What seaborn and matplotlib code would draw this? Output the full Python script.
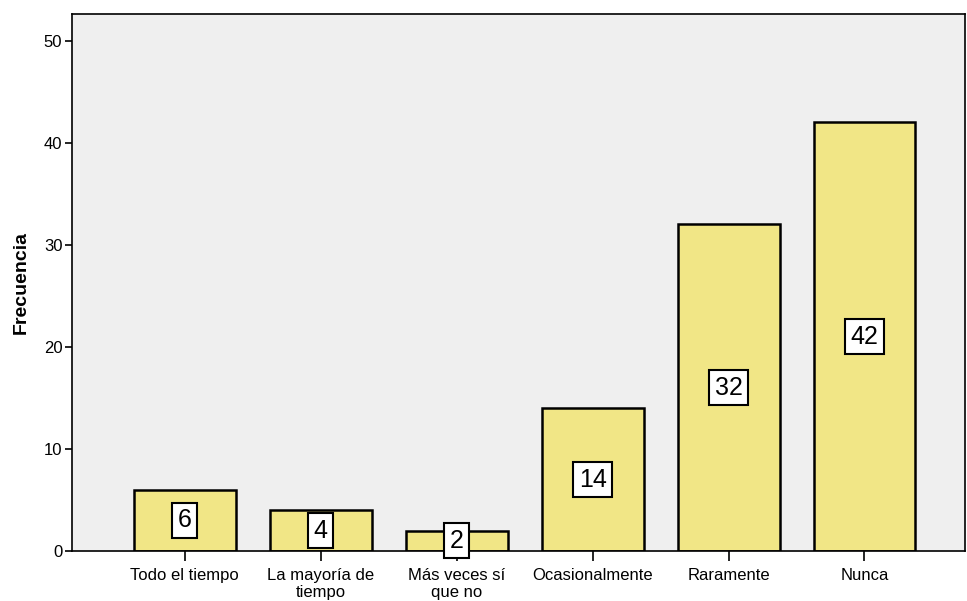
import matplotlib
matplotlib.use("Agg")
import matplotlib.pyplot as plt
import seaborn as sns
from pandas import DataFrame

categorias = ["Todo el tiempo", "La mayoría de\ntiempo", "Más veces sí\nque no",
              "Ocasionalmente", "Raramente", "Nunca"]
frecuencias = [6, 4, 2, 14, 32, 42]
ticks_y = [0, 10, 20, 30, 40, 50]

df = DataFrame({"categoria": categorias, "frecuencia": frecuencias})

sns.set_style("white")
plt.rcParams['font.family'] = ['Liberation Sans', 'DejaVu Sans']
plt.rcParams['text.color'] = 'black'
plt.rcParams['xtick.color'] = 'black'
plt.rcParams['ytick.color'] = 'black'
plt.rcParams['axes.labelcolor'] = 'black'

fig = plt.figure(figsize=(9.67, 6.01), dpi=100)
ax = fig.add_axes([0.0745, 0.0832, 0.9235, 0.8935])
ax.set_facecolor("#EFEFEF")

sns.barplot(data=df, x="categoria", y="frecuencia", color="#F1E686",
            saturation=1, width=0.75, edgecolor="black", linewidth=1.8, ax=ax)

ax.bar_label(ax.containers[0], label_type='center', fontsize=18,
             bbox=dict(boxstyle="square,pad=0.22", facecolor="white",
                       edgecolor="black", linewidth=1.5))

ax.set_xlim(-0.83, 5.74)
ax.set_ylim(0, 52.6)
ax.set_yticks(ticks_y)
ax.tick_params(axis='both', direction='out', length=5, width=1.2, color='black',
               labelsize=12, left=True, bottom=True, pad=2)
ax.tick_params(axis='x', length=7, pad=5)
ax.set_xlabel("")
ax.set_ylabel("Frecuencia", fontsize=14, fontweight='bold', labelpad=10)

for s in ax.spines.values():
    s.set_color("black")
    s.set_linewidth(1.2)

plt.savefig("out.png", dpi=100)
